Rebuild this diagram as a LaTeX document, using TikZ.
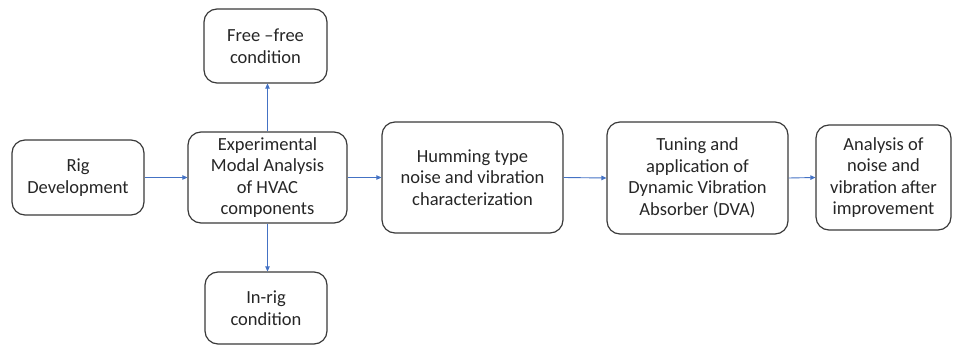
\documentclass[tikz,border=0pt]{standalone}
\usepackage{fontspec}
\setmainfont{Carlito}
\usetikzlibrary{arrows.meta}
\definecolor{arrowblue}{HTML}{4472C4}
\definecolor{boxline}{HTML}{3A3A3A}
\tikzset{
  box/.style={draw=boxline, line width=1.2pt, rounded corners=13pt, fill=white,
    align=center, inner sep=0pt, font=\fontsize{18.5}{21.5}\selectfont, text=black!85},
  arr/.style={draw=arrowblue, line width=0.9pt, -{Triangle[length=5pt,width=4.5pt]}}
}
\begin{document}
\begin{tikzpicture}[x=1pt,y=-1pt]
\useasboundingbox (0,0) rectangle (953,345);
\node[box, minimum width=132pt, minimum height=75pt] (rig) at (78,177.5) {Rig\\Development};
\node[box, minimum width=159pt, minimum height=91pt] (ema) at (267.5,177.5) {Experimental\\Modal Analysis\\of HVAC\\components};
\node[box, minimum width=123pt, minimum height=74pt] (free) at (265.5,46) {Free --free\\condition};
\node[box, minimum width=122pt, minimum height=72pt] (inrig) at (266,308) {In-rig\\condition};
\node[box, minimum width=181pt, minimum height=111pt] (hum) at (472.5,177.5) {Humming type\\noise and vibration\\characterization};
\node[box, minimum width=181pt, minimum height=112pt] (tun) at (697.5,178) {Tuning and\\application of\\Dynamic Vibration\\Absorber (DVA)};
\node[box, minimum width=135pt, minimum height=105pt] (ana) at (883.5,177.5) {Analysis of\\noise and\\vibration after\\improvement};
\draw[arr] (rig.east) -- (ema.west);
\draw[arr] (ema.east) -- (hum.west);
\draw[arr] (hum.east) -- (tun.west);
\draw[arr] (tun.east) -- (ana.west);
\draw[arr] (ema.north) -- (ema.north |- free.south);
\draw[arr] (ema.south) -- (ema.south |- inrig.north);
\end{tikzpicture}
\end{document}
